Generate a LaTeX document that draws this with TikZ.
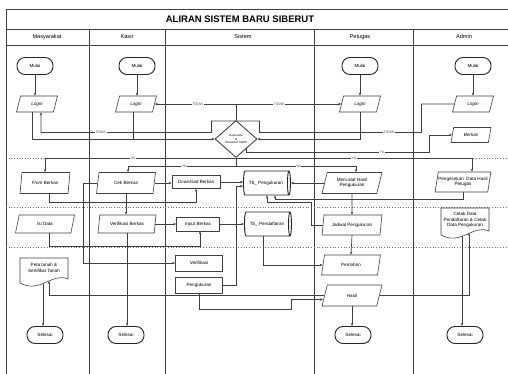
\documentclass[tikz,border=0pt]{standalone}
\usepackage{fontspec}
\setmainfont{Liberation Sans}
\usetikzlibrary{shapes.geometric,arrows.meta,calc}
\begin{document}
\begin{tikzpicture}[x=1pt,y=-1pt,
  lane/.style={draw=black!75,line width=0.7pt},
  sepline/.style={draw=black!55,dotted,line width=0.7pt},
  term/.style={draw=black!85,line width=0.9pt,rounded corners=8pt,minimum width=36pt,minimum height=17pt,inner sep=0pt,font=\fontsize{4.6}{5}\selectfont},
  para/.style={draw=black!75,line width=0.6pt,trapezium,trapezium left angle=72,trapezium right angle=108,trapezium stretches=true,minimum width=58pt,minimum height=20pt,inner sep=0pt,align=center,font=\fontsize{4.6}{5.4}\selectfont},
  loginbox/.style={para,minimum width=41pt,minimum height=16pt},
  box/.style={draw=black!75,line width=0.6pt,minimum width=47pt,minimum height=16pt,inner sep=0pt,font=\fontsize{4.6}{5}\selectfont},
  cyl/.style={cylinder,draw=black!85,line width=0.9pt,shape aspect=0.7,minimum width=24pt,minimum height=47pt,inner sep=0pt,font=\fontsize{4.6}{5}\selectfont},
  docshape/.style={draw=black!75,line width=0.6pt},
  doctext/.style={inner sep=0pt,align=center,font=\fontsize{4.6}{5.6}\selectfont},
  con/.style={draw=black!75,line width=0.65pt},
  arr/.style={con,-{Stealth[length=3pt,width=2.4pt]}},
  lbl/.style={fill=white,inner sep=0.6pt,font=\fontsize{3.6}{4}\selectfont,text=black!70},
  hdr/.style={font=\fontsize{5.6}{6}\selectfont}]
\useasboundingbox (0,0) rectangle (508,374);
% frame and lanes
\draw[lane] (508,9) -- (6,9) -- (6,374);
\draw[lane] (6,29) -- (508,29);
\draw[lane] (6,45) -- (508,45);
\foreach \xx in {89,165,314,413} \draw[lane] (\xx,29) -- (\xx,374);
\foreach \yy in {158,207,247} \draw[sepline] (6,\yy) -- (508,\yy);
\node[font=\bfseries\fontsize{9.5}{10}\selectfont] (title) at (240,19) {ALIRAN SISTEM BARU SIBERUT};
\node[hdr] (h1) at (47,37) {Masyarakat};
\node[hdr] (h2) at (127,37) {Kasir};
\node[hdr] (h3) at (243,37) {Sistem};
\node[hdr] (h4) at (360,37) {Petugas};
\node[hdr] (h5) at (464,37) {Admin};
% start
\node[term] (mM) at (35,66) {Mulai};
\node[term] (kM) at (137,66) {Mulai};
\node[term] (pM) at (360,66) {Mulai};
\node[term] (aM) at (473,66) {Mulai};
\node[loginbox] (mL) at (37,104) {\textit{Login}};
\node[loginbox] (kL) at (136,104) {\textit{Login}};
\node[loginbox] (pL) at (360,104) {\textit{Login}};
\node[loginbox] (aL) at (473,104) {\textit{Login}};
\node[diamond,draw=black!80,line width=0.8pt,minimum width=42pt,minimum height=37pt,inner sep=0pt,align=center,font=\fontsize{3}{3.6}\selectfont] (dia) at (236,139) {Username\\\&\\\textit{Password} Valid?};
\node[para,minimum width=40pt,minimum height=15pt] (berkas) at (471,135) {\textit{Berkas}};
% row 1
\node[para,minimum width=50pt,minimum height=21pt] (fromB) at (45,183) {\textit{From} Berkas};
\node[para,minimum width=59pt,minimum height=21pt] (cek) at (126,183) {Cek Berkas};
\node[box,minimum width=48pt,minimum height=13pt] (dl) at (196,182) {\textit{Download} Berkas};
\node[cyl] (tbU) at (266,183) {Tb\_ Pengukuran};
\node[para,minimum width=60pt,minimum height=21pt] (mencatat) at (352,183) {Mencatat Hasil\\Pengukuran};
\node[para,minimum width=56pt,minimum height=20pt] (cekData) at (463,182) {Pengecekan\ \ Data Hasil\\Petugas};
% row 2
\node[para,minimum width=59pt,minimum height=18pt] (isi) at (45,224) {Isi Data};
\node[para,minimum width=58pt,minimum height=18pt] (verif) at (127,224) {Verifikasi Berkas};
\node[box,minimum width=43pt,minimum height=14pt] (input) at (198,224) {\textit{Input} Berkas};
\node[cyl] (tbD) at (267,224) {Tb\_ Pendaftaran};
\node[para,minimum width=60pt,minimum height=20pt] (jadwal) at (352,225) {Jadwal Pengukuran};
% documents
\draw[docshape] (441,208) -- (489,208) -- (489,231) .. controls (473,224) and (461,246) .. (441,235) -- cycle;
\node[doctext] (cetak) at (465,220) {Cetak Data\\Pendaftaran \& Cetak\\Data Pengukuran};
\coordinate (cetakIn) at (469,233);
\coordinate (cetakOut) at (462,236);
\draw[docshape] (20,258) -- (68,258) -- (68,279) .. controls (52,272) and (40,294) .. (20,283) -- cycle;
\node[doctext] (peta) at (44,268) {Peta tanah \&\\Sertifikat Tanah};
\coordinate (pIn) at (49,281);
\coordinate (pOut) at (43,283);
% row 3
\node[box] (verifS) at (199,263) {Verifikasi};
\node[box] (peng) at (199,285) {Pengukuran};
\node[para,minimum width=59pt,minimum height=20pt] (pemohon) at (351,265) {Pemohon};
\node[para,minimum width=60pt,minimum height=21pt] (hasil) at (352,295.5) {Hasil};
\node[term] (sM) at (45,335) {Selesai};
\node[term] (sK) at (126,335) {Selesai};
\node[term] (sP) at (353,335) {Selesai};
\node[term] (sA) at (465,335) {Selesai};
% connectors: start -> login
\draw[arr] (mM.south) -- (mM.south |- mL.north);
\draw[arr] (kM.south) -- (kM.south |- kL.north);
\draw[arr] (pM.south) -- (pM.south |- pL.north);
\draw[arr] (aM.south) -- (aM.south |- aL.north);
% login -> diamond
\draw[arr] ([xshift=-5pt]mL.south) |- (dia.west);
\draw[con] ([xshift=-3pt]kL.south) -- ([xshift=-3pt]kL.south |- dia.west);
\draw[arr] (pL.south) |- (dia.east);
% TIDAK up
\coordinate (dtop) at (dia.north |- kL.east);
\draw[con] (dia.north) -- (dtop);
\draw[arr] (dtop) -- node[lbl,pos=0.47]{TIDAK} (kL.east);
\draw[arr] (dtop) -- node[lbl,pos=0.41]{TIDAK} (pL.west);
% TIDAK back to masyarakat login
\draw[arr] (aL.west) -| (421.5,132.5) -- node[lbl,pos=0.2]{TIDAK} (259.5,132.5) -- (259.5,121) -- (211.5,121) -- (211.5,132.5) -- node[lbl,pos=0.65]{TIDAK} (41,132.5) -- ([xshift=4pt]mL.south);
% YA to berkas
\draw[arr] (dia.south east) |- node[lbl,pos=0.87]{YA} (429.5,152.5) |- (berkas.west);
% YA lines
\draw[arr] (dia.south) -| node[lbl,pos=0.27]{YA} (fromB.north);
\draw[arr] (dia.south) -| node[lbl,pos=0.25]{YA} ([xshift=9pt]cekData.north);
\coordinate (ya2) at (236,166.5);
\draw[con] (dia.south) -- (ya2);
\draw[arr] (ya2) -| node[lbl,pos=0.24]{YA} ([xshift=2pt]cek.north);
\draw[arr] (ya2) -| node[lbl,pos=0.26]{YA} ([xshift=4pt]mencatat.north);
% row 1 connectors
\draw[arr] ([xshift=4pt]fromB.south) -- ++(0,9) -| (dl.south);
\draw[arr] (cek.east) -- (cek.east -| dl.west);
\draw[arr] (dl.east) -- (dl.east -| tbU.west);
\draw[arr] (cek.south) -- (cek.south |- verif.north);
\draw[arr] (cek.west) -- ++(-14,0) |- (verifS.west);
\draw[arr] (mencatat.west) -- (mencatat.west -| tbU.east);
\draw[arr] (cekData.south) -- ++(0,7) -| ([xshift=9pt]tbU.south);
\draw[arr] (jadwal.west) -| (311.5,202.5) -| ([xshift=1pt]tbU.south);
\draw[arr] (mencatat.south) -- (jadwal.north);
% row 2 connectors
\draw[arr] (verif.east) -- (verif.east -| input.west);
\draw[arr] (input.east) -- (input.east -| tbD.west);
\draw[arr] ([xshift=4pt]isi.south) -- ++(0,13) -| ([xshift=2pt]input.south);
\draw[arr] (verif.south) -- (verif.south |- sK.north);
\draw[arr] ([xshift=-4pt]tbD.south) |- (pemohon.west);
\draw[arr] (jadwal.south) -- (pemohon.north);
% row 3 connectors
\draw[arr] (peng.east) -| ([xshift=-7pt,yshift=-3pt]tbU.west) -- ([yshift=-3pt]tbU.west);
\draw[arr] (peng.south) -- ++(0,16) -| ($(hasil.west)+(-33,4)$) -- ($(hasil.west)+(-1.3,4)$);
\draw[arr] (hasil.west) -| (pIn);
\draw[arr] (hasil.east) -| (cetakIn);
\draw[arr] (cetakOut) -- (cetakOut |- sA.north);
\draw[arr] (hasil.south) -- (hasil.south |- sP.north);
\draw[arr] (pOut) -- (pOut |- sM.north);
\end{tikzpicture}
\end{document}
